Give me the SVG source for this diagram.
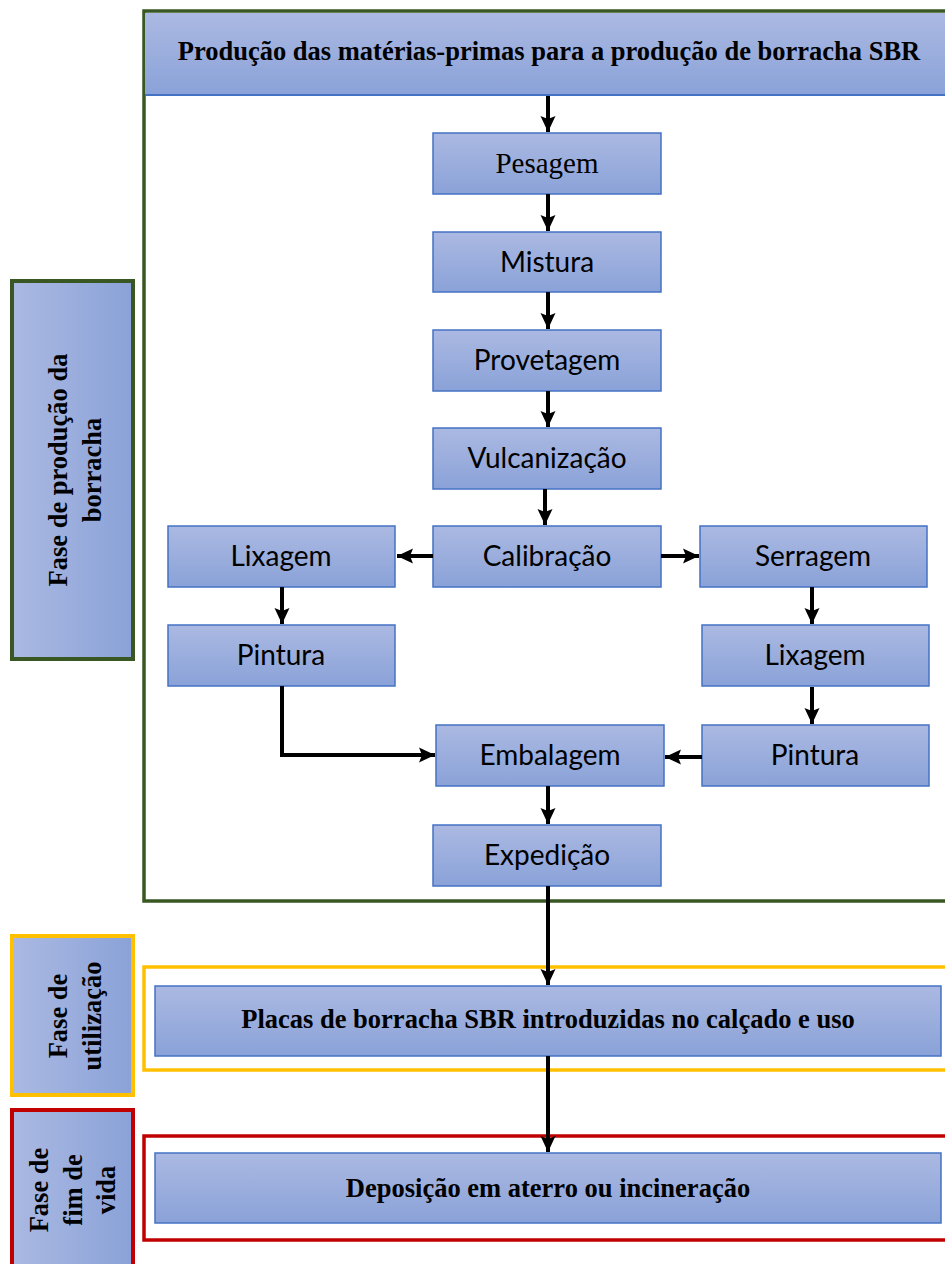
<svg xmlns="http://www.w3.org/2000/svg" width="945" height="1264" viewBox="0 0 945 1264">
<defs>
<linearGradient id="gv" x1="0" y1="0" x2="0" y2="1">
<stop offset="0" stop-color="#abb9e2"/>
<stop offset="1" stop-color="#8aa2d8"/>
</linearGradient>
<linearGradient id="gh" x1="0" y1="0" x2="1" y2="0">
<stop offset="0" stop-color="#abb9e2"/>
<stop offset="1" stop-color="#8aa2d8"/>
</linearGradient>
<marker id="ah" markerUnits="userSpaceOnUse" markerWidth="16" markerHeight="16" viewBox="0 0 16 16" refX="16" refY="8" orient="auto">
<path d="M0,0.5 L16,8 L0,15.5 L3,8 z" fill="#000"/>
</marker>
</defs>
<style>
.box{fill:url(#gv);stroke:#4472c4;stroke-width:1.5}
.lbl{fill:url(#gh);stroke-width:4}
.frame{fill:none;stroke-width:3.5}
.sans{font-family:Lato,"Open Sans","Liberation Sans",sans-serif;font-size:28px;fill:#000;text-anchor:middle}
.serif{font-family:"Liberation Serif","DejaVu Serif",serif;font-size:29px;fill:#000;text-anchor:middle}
.bold{font-family:"Liberation Serif","DejaVu Serif",serif;font-size:26.5px;font-weight:bold;fill:#000;text-anchor:middle}
.conn{fill:none;stroke:#000;stroke-width:4;marker-end:url(#ah)}
</style>
<rect width="945" height="1264" fill="#fff"/>

<g id="frame-producao">
<rect class="frame" x="144" y="11" width="810" height="890" stroke="#385723"/>
</g>
<g id="frame-utilizacao">
<rect class="frame" x="144" y="967" width="810" height="103" stroke="#ffc000"/>
</g>
<g id="frame-fim">
<rect class="frame" x="144" y="1136" width="810" height="104" stroke="#c00000"/>
</g>

<g id="label-producao">
<rect class="lbl" x="12" y="281" width="121" height="378" stroke="#385723"/>
<g transform="translate(0,470) rotate(-90)">
<text class="bold" x="0" y="67">Fase de produção da</text>
<text class="bold" x="0" y="101">borracha</text>
</g>
</g>
<g id="label-utilizacao">
<rect class="lbl" x="12" y="936" width="121" height="159" stroke="#ffc000"/>
<g transform="translate(0,1016) rotate(-90)">
<text class="bold" x="0" y="67">Fase de</text>
<text class="bold" x="0" y="101">utilização</text>
</g>
</g>
<g id="label-fim">
<rect class="lbl" x="12" y="1110" width="121" height="160" stroke="#c00000"/>
<g transform="translate(0,1190) rotate(-90)">
<text class="bold" x="0" y="48">Fase de</text>
<text class="bold" x="0" y="82">fim de</text>
<text class="bold" x="0" y="115">vida</text>
</g>
</g>

<g id="header">
<rect x="145" y="13" width="805" height="82" fill="url(#gv)"/>
<line x1="145" y1="95" x2="950" y2="95" stroke="#4472c4" stroke-width="2"/>
<text class="bold" x="549" y="60">Produção das matérias-primas para a produção de borracha SBR</text>
</g>

<g id="pesagem"><rect class="box" x="433" y="133" width="228" height="61"/><text class="serif" x="547" y="173">Pesagem</text></g>
<g id="mistura"><rect class="box" x="433" y="232" width="228" height="60"/><text class="sans" x="547" y="272">Mistura</text></g>
<g id="provetagem"><rect class="box" x="433" y="330" width="228" height="61"/><text class="sans" x="547" y="370">Provetagem</text></g>
<g id="vulcanizacao"><rect class="box" x="433" y="428" width="228" height="61"/><text class="sans" x="547" y="468">Vulcanização</text></g>
<g id="calibracao"><rect class="box" x="433" y="526" width="228" height="61"/><text class="sans" x="547" y="566">Calibração</text></g>
<g id="lixagem-esq"><rect class="box" x="168" y="526" width="227" height="61"/><text class="sans" x="281" y="566">Lixagem</text></g>
<g id="serragem"><rect class="box" x="700" y="526" width="227" height="61"/><text class="sans" x="813" y="566">Serragem</text></g>
<g id="pintura-esq"><rect class="box" x="168" y="625" width="227" height="61"/><text class="sans" x="281" y="665">Pintura</text></g>
<g id="lixagem-dir"><rect class="box" x="702" y="625" width="227" height="61"/><text class="sans" x="815" y="665">Lixagem</text></g>
<g id="embalagem"><rect class="box" x="436" y="725" width="228" height="61"/><text class="sans" x="550" y="765">Embalagem</text></g>
<g id="pintura-dir"><rect class="box" x="702" y="725" width="227" height="61"/><text class="sans" x="815" y="765">Pintura</text></g>
<g id="expedicao"><rect class="box" x="433" y="825" width="228" height="61"/><text class="sans" x="547" y="865">Expedição</text></g>

<g id="placas"><rect class="box" x="155" y="986" width="786" height="70" stroke-width="2.5"/><text class="bold" x="548" y="1028">Placas de borracha SBR introduzidas no calçado e uso</text></g>
<g id="deposicao"><rect class="box" x="155" y="1153" width="786" height="70" stroke-width="2.5"/><text class="bold" x="548" y="1197">Deposição em aterro ou incineração</text></g>

<g id="connectors">
<line class="conn" x1="548" y1="96" x2="548" y2="132"/>
<line class="conn" x1="548" y1="194" x2="548" y2="231"/>
<line class="conn" x1="548" y1="292" x2="548" y2="329"/>
<line class="conn" x1="548" y1="391" x2="548" y2="427"/>
<line class="conn" x1="545" y1="489" x2="545" y2="525"/>
<line class="conn" x1="433" y1="556" x2="397" y2="556"/>
<line class="conn" x1="661" y1="556" x2="699" y2="556"/>
<line class="conn" x1="282" y1="587" x2="282" y2="624"/>
<line class="conn" x1="812" y1="587" x2="812" y2="624"/>
<line class="conn" x1="812" y1="687" x2="812" y2="724"/>
<path class="conn" d="M282,686 V755 H435"/>
<line class="conn" x1="702" y1="757" x2="665" y2="757"/>
<line class="conn" x1="548" y1="786" x2="548" y2="824"/>
<line class="conn" x1="548" y1="886" x2="548" y2="985"/>
<line class="conn" x1="548" y1="1056" x2="548" y2="1152"/>
</g>
</svg>
